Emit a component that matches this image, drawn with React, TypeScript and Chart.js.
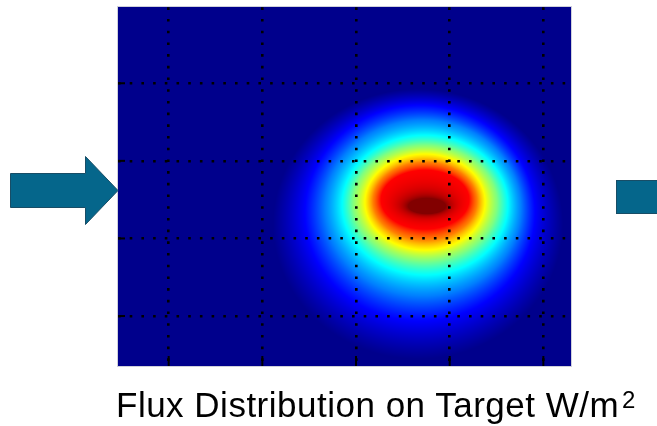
import React, { useEffect, useRef } from "react";
import { Chart, registerables } from "chart.js";

Chart.register(...registerables);

// Axis layout (arbitrary target units; grid lines at the ticks)
const xTickValues = [1, 2, 3, 4, 5];
const yTickValues = [1, 2, 3, 4];
const xRange = [0.459, 5.29];
const yRange = [0.356, 4.979];

// Flux contours (fraction of peak flux), elliptical iso-lines
const fluxLevels = [0, 0.125, 0.25, 0.375, 0.5, 0.625, 0.75, 0.875, 1.0];
const contourCx = [3.662, 3.683, 3.715, 3.737, 3.737, 3.737, 3.737, 3.737, 3.758];
const contourCy = [2.186, 2.327, 2.392, 2.43, 2.456, 2.469, 2.482, 2.5, 2.418];
const contourRx = [1.548, 1.228, 1.046, 0.886, 0.769, 0.641, 0.555, 0.47, 0.2];
const contourRy = [1.74, 1.392, 1.134, 0.902, 0.747, 0.619, 0.5, 0.38, 0.1];

const captionText = "Flux Distribution on Target W/m";
const captionSup = "2";

// jet colour map
const JET_POS = [0, 0.125, 0.375, 0.625, 0.875, 1];
const JET_RGB = [
  [0, 0, 140],
  [0, 0, 255],
  [0, 255, 255],
  [255, 255, 0],
  [255, 0, 0],
  [130, 0, 0],
];

function jet(v: number): number[] {
  if (v <= 0) return JET_RGB[0];
  if (v >= 1) return JET_RGB[JET_RGB.length - 1];
  for (let i = 0; i < JET_POS.length - 1; i++) {
    if (v <= JET_POS[i + 1]) {
      const t = (v - JET_POS[i]) / (JET_POS[i + 1] - JET_POS[i]);
      const a = JET_RGB[i];
      const b = JET_RGB[i + 1];
      return [a[0] + (b[0] - a[0]) * t, a[1] + (b[1] - a[1]) * t, a[2] + (b[2] - a[2]) * t];
    }
  }
  return JET_RGB[JET_RGB.length - 1];
}

const heatmapPlugin = {
  id: "fluxHeatmap",
  beforeDraw(chart: any) {
    const { ctx, chartArea, scales } = chart;
    const xs = scales.x;
    const ys = scales.y;
    const left = Math.round(chartArea.left);
    const top = Math.round(chartArea.top);
    const w = Math.round(chartArea.right) - left;
    const h = Math.round(chartArea.bottom) - top;
    const n = fluxLevels.length;
    const cx: number[] = [], cy: number[] = [], rx: number[] = [], ry: number[] = [];
    for (let k = 0; k < n; k++) {
      const px = xs.getPixelForValue(contourCx[k]);
      const py = ys.getPixelForValue(contourCy[k]);
      cx.push(px);
      cy.push(py);
      rx.push(Math.abs(xs.getPixelForValue(contourCx[k] + contourRx[k]) - px));
      ry.push(Math.abs(ys.getPixelForValue(contourCy[k] + contourRy[k]) - py));
    }
    const off = document.createElement("canvas");
    off.width = w;
    off.height = h;
    const octx = off.getContext("2d")!;
    const img = octx.createImageData(w, h);
    const d = new Array(n);
    for (let j = 0; j < h; j++) {
      const py = top + j + 0.5;
      for (let i = 0; i < w; i++) {
        const px = left + i + 0.5;
        let kIn = -1;
        for (let k = 0; k < n; k++) {
          const dx = (px - cx[k]) / rx[k];
          const dy = (py - cy[k]) / ry[k];
          d[k] = Math.sqrt(dx * dx + dy * dy);
          if (d[k] <= 1) kIn = k;
        }
        let v: number;
        if (kIn < 0) v = 0;
        else if (kIn === n - 1) v = fluxLevels[n - 1];
        else {
          const a = d[kIn];
          const b = d[kIn + 1];
          const t = (1 - a) / ((1 - a) + (b - 1));
          v = fluxLevels[kIn] + (fluxLevels[kIn + 1] - fluxLevels[kIn]) * t;
        }
        const c = jet(v);
        const o = (j * w + i) * 4;
        img.data[o] = c[0];
        img.data[o + 1] = c[1];
        img.data[o + 2] = c[2];
        img.data[o + 3] = 255;
      }
    }
    octx.putImageData(img, 0, 0);
    ctx.save();
    ctx.drawImage(off, left, top);
    ctx.strokeStyle = "#cfd0dc";
    ctx.lineWidth = 1;
    ctx.strokeRect(left - 0.5, top - 0.5, w + 1, h + 1);
    ctx.restore();
  },
  afterDraw(chart: any) {
    const { ctx, chartArea, scales } = chart;
    ctx.save();
    ctx.fillStyle = "#000";
    for (const v of xTickValues) {
      const px = scales.x.getPixelForValue(v);
      ctx.fillRect(px - 1, chartArea.bottom - 10, 2, 10);
    }
    for (const v of yTickValues) {
      const py = scales.y.getPixelForValue(v);
      ctx.fillRect(chartArea.left, py - 1, 7, 2);
    }
    ctx.restore();
  },
};

export default function App() {
  const ref = useRef<HTMLCanvasElement>(null);
  useEffect(() => {
    const canvas = ref.current!;
    const chart = new Chart(canvas, {
      type: "scatter",
      data: {
        datasets: [
          {
            label: "Flux contours",
            data: contourCx.map((x, i) => ({ x, y: contourCy[i] })),
            pointRadius: 0,
            showLine: false,
          },
        ],
      },
      options: {
        animation: false,
        responsive: false,
        devicePixelRatio: 1,
        layout: { padding: { left: 118, top: 7.3, right: 86.5, bottom: 60 } },
        plugins: { legend: { display: false }, tooltip: { enabled: false }, title: { display: false } },
        scales: {
          x: {
            type: "linear",
            min: xRange[0],
            max: xRange[1],
            grid: { color: "#000", lineWidth: 2.6, drawTicks: false },
            border: { display: false, dash: [2.6, 9.1] },
            ticks: { display: false },
            afterBuildTicks: (s: any) => {
              s.ticks = xTickValues.map((value) => ({ value }));
            },
          },
          y: {
            type: "linear",
            min: yRange[0],
            max: yRange[1],
            grid: { color: "#000", lineWidth: 2.6, drawTicks: false },
            border: { display: false, dash: [2.6, 9.1] },
            ticks: { display: false },
            afterBuildTicks: (s: any) => {
              s.ticks = yTickValues.map((value) => ({ value }));
            },
          },
        },
      },
      plugins: [heatmapPlugin],
    } as any);
    return () => chart.destroy();
  }, []);

  const teal = "#05668b";
  const tealEdge = "#184d66";

  return (
    <div style={{ position: "absolute", left: 0, top: 0, width: 657, height: 426, background: "#fff", overflow: "hidden" }}>
      <canvas ref={ref} width={657} height={426} style={{ position: "absolute", left: 0, top: 0 }} />
      <svg width={657} height={426} style={{ position: "absolute", left: 0, top: 0, pointerEvents: "none" }}>
        <polygon
          points="10.5,173.5 85.5,173.5 85.5,156.5 118,190.5 85.5,224.5 85.5,207.5 10.5,207.5"
          fill={teal}
          stroke={tealEdge}
          strokeWidth={1}
        />
        <rect x={616.5} y={180.5} width={50} height={33} fill={teal} stroke={tealEdge} strokeWidth={1} />
      </svg>
      <div
        style={{
          position: "absolute",
          left: 116,
          top: 387,
          fontFamily: "'Liberation Sans', Arial, sans-serif",
          fontSize: 35,
          lineHeight: "35px",
          letterSpacing: "0.5px",
          color: "#000",
          whiteSpace: "nowrap",
        }}
      >
        {captionText}
        <span
          style={{
            fontSize: 24,
            lineHeight: "0px",
            position: "relative",
            top: -9,
            marginLeft: 3,
            letterSpacing: 0,
          }}
        >
          {captionSup}
        </span>
      </div>
    </div>
  );
}
